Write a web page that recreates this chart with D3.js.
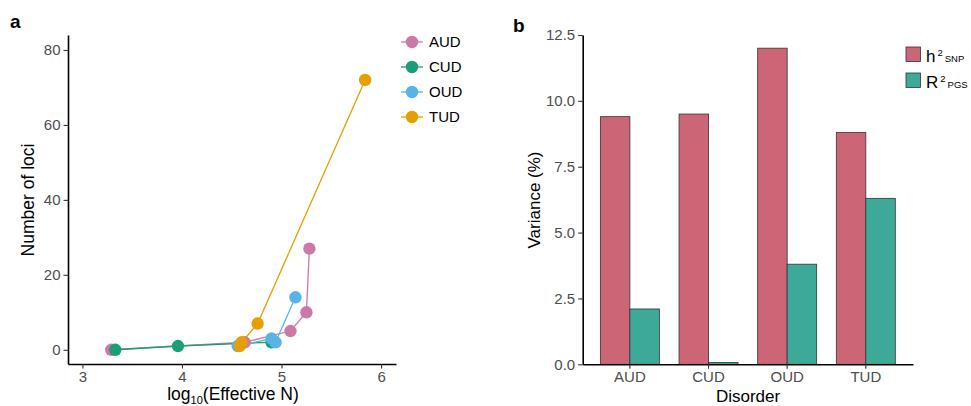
<!DOCTYPE html>
<html>
<head>
<meta charset="utf-8">
<script src="https://cdn.jsdelivr.net/npm/d3@7"></script>
<style>
  body { margin: 0; background: #fff; }
  svg { font-family: "Liberation Sans", Arial, sans-serif; }
  .tick text { fill: #4d4d4d; font-size: 15px; }
  .tick line { stroke: #333; stroke-width: 1.1; }
  .domain { stroke: #000; stroke-width: 1.6; }
</style>
</head>
<body>
<svg id="chart" width="971" height="406"></svg>
<script>
// panel a: loci vs log10 effective N
const disorders = ['AUD', 'CUD', 'OUD', 'TUD'];
const lineColors = ['#CC79A7', '#1B9E77', '#56B4E9', '#E69F00'];
const audN = [3.29, 4.63, 5.09, 5.25, 5.28];
const audLoci = [0, 2, 5, 10, 27];
const cudN = [3.33, 3.96, 4.90];
const cudLoci = [0, 1, 2];
const oudN = [4.56, 4.90, 4.94, 5.14];
const oudLoci = [1, 3, 2, 14];
const tudN = [4.58, 4.60, 4.76, 5.84];
const tudLoci = [1, 2, 7, 72];
const xTicksA = [3, 4, 5, 6];
const yTicksA = [0, 20, 40, 60, 80];

// panel b: variance explained
const h2snp = [9.4, 9.5, 12.0, 8.8];
const r2pgs = [2.1, 0.07, 3.8, 6.3];
const barColors = ['#CC6677', '#3DAA99'];
const yTicksB = [0, 2.5, 5, 7.5, 10, 12.5];

const svg = d3.select('#chart');

// ---------- panel a ----------
const xA = d3.scaleLinear().domain([2.855, 6.15]).range([68, 396]);
const yA = d3.scaleLinear().domain([-3.8, 84]).range([364, 35]);

const gA = svg.append('g');

gA.append('g')
    .attr('transform', 'translate(0,364)')
    .call(d3.axisBottom(xA).tickValues(xTicksA).tickFormat(d3.format('d'))
        .tickSize(4.5).tickSizeOuter(0).tickPadding(3));
gA.append('g')
    .attr('transform', 'translate(68,0)')
    .call(d3.axisLeft(yA).tickValues(yTicksA).tickSize(4.5).tickSizeOuter(0).tickPadding(3));

const seriesA = [
    { name: 'AUD', n: audN, loci: audLoci },
    { name: 'CUD', n: cudN, loci: cudLoci },
    { name: 'OUD', n: oudN, loci: oudLoci },
    { name: 'TUD', n: tudN, loci: tudLoci }
].map((s, i) => ({ ...s, color: lineColors[i], pts: s.n.map((v, j) => [v, s.loci[j]]) }));

const line = d3.line().x(d => xA(d[0])).y(d => yA(d[1]));

gA.selectAll('.series-line')
    .data(seriesA)
    .enter()
    .append('path')
    .attr('d', d => line(d.pts))
    .attr('fill', 'none')
    .attr('stroke', d => d.color)
    .attr('stroke-width', 1.3);

seriesA.forEach(s => {
    gA.append('g').selectAll('circle')
        .data(s.pts)
        .enter()
        .append('circle')
        .attr('cx', d => xA(d[0]))
        .attr('cy', d => yA(d[1]))
        .attr('r', 6.2)
        .attr('fill', s.color);
});

// legend a
const legA = gA.append('g').attr('transform', 'translate(401,42)');
seriesA.forEach((s, i) => {
    const row = legA.append('g').attr('transform', `translate(0,${i * 25})`);
    row.append('line').attr('x1', 0).attr('x2', 22).attr('stroke', s.color).attr('stroke-width', 1.3);
    row.append('circle').attr('cx', 11).attr('r', 6.2).attr('fill', s.color);
    row.append('text').attr('x', 28).attr('dy', '0.36em')
        .style('font-size', '15px').attr('fill', '#000').text(s.name);
});

// titles a
svg.append('text').attr('x', 10).attr('y', 28)
    .style('font-size', '19px').style('font-weight', 'bold').text('a');
svg.append('text')
    .attr('transform', 'translate(34,200) rotate(-90)')
    .attr('text-anchor', 'middle')
    .style('font-size', '17.5px')
    .text('Number of loci');
const xt = svg.append('text').attr('x', 233).attr('y', 400)
    .attr('text-anchor', 'middle').style('font-size', '17.5px');
xt.append('tspan').text('log');
xt.append('tspan').attr('dy', 3.5).style('font-size', '11px').text('10');
xt.append('tspan').attr('dy', -3.5).text('(Effective N)');

// ---------- panel b ----------
const xB = d3.scaleBand().domain(disorders).range([582.7, 913]).paddingInner(0.25).paddingOuter(0.225);
const xSub = d3.scaleBand().domain([0, 1]).range([0, xB.bandwidth()]);
const yB = d3.scaleLinear().domain([0, 12.5]).range([364.3, 35]);

const gB = svg.append('g');

const bars = [];
disorders.forEach((d, i) => {
    bars.push({ cat: d, k: 0, v: h2snp[i] });
    bars.push({ cat: d, k: 1, v: r2pgs[i] });
});

gB.selectAll('rect.bar')
    .data(bars)
    .enter()
    .append('rect')
    .attr('class', 'bar')
    .attr('x', d => xB(d.cat) + xSub(d.k))
    .attr('y', d => yB(d.v))
    .attr('width', xSub.bandwidth())
    .attr('height', d => yB(0) - yB(d.v))
    .attr('fill', d => barColors[d.k])
    .attr('stroke', '#333')
    .attr('stroke-width', 0.8);

gB.append('g')
    .attr('transform', 'translate(0,364.3)')
    .call(d3.axisBottom(xB).tickSize(4.5).tickSizeOuter(0).tickPadding(3));
gB.append('g')
    .attr('transform', 'translate(582.7,0)')
    .call(d3.axisLeft(yB).tickValues(yTicksB).tickFormat(d3.format('.1f'))
        .tickSize(4.5).tickSizeOuter(0).tickPadding(3));

svg.append('text').attr('x', 513).attr('y', 32)
    .style('font-size', '19px').style('font-weight', 'bold').text('b');
svg.append('text')
    .attr('transform', 'translate(540,200) rotate(-90)')
    .attr('text-anchor', 'middle')
    .style('font-size', '17px')
    .text('Variance (%)');
svg.append('text').attr('x', 748).attr('y', 402)
    .attr('text-anchor', 'middle').style('font-size', '17px').text('Disorder');

// legend b
const legLabels = [['h', 'SNP'], ['R', 'PGS']];
const legB = svg.append('g').attr('transform', 'translate(906,47)');
legLabels.forEach((lab, i) => {
    const row = legB.append('g').attr('transform', `translate(0,${i * 26})`);
    row.append('rect').attr('width', 14.5).attr('height', 14.5)
        .attr('fill', barColors[i]).attr('stroke', '#333').attr('stroke-width', 0.8);
    const t = row.append('text').attr('x', 20).attr('y', 14.5).style('font-size', '17px');
    t.append('tspan').text(lab[0]);
    t.append('tspan').attr('dx', 2).attr('dy', -5.5).style('font-size', '9.5px').text('2');
    t.append('tspan').attr('dx', 2).attr('dy', 5.5).style('font-size', '9.5px').text(lab[1]);
});
</script>
</body>
</html>
